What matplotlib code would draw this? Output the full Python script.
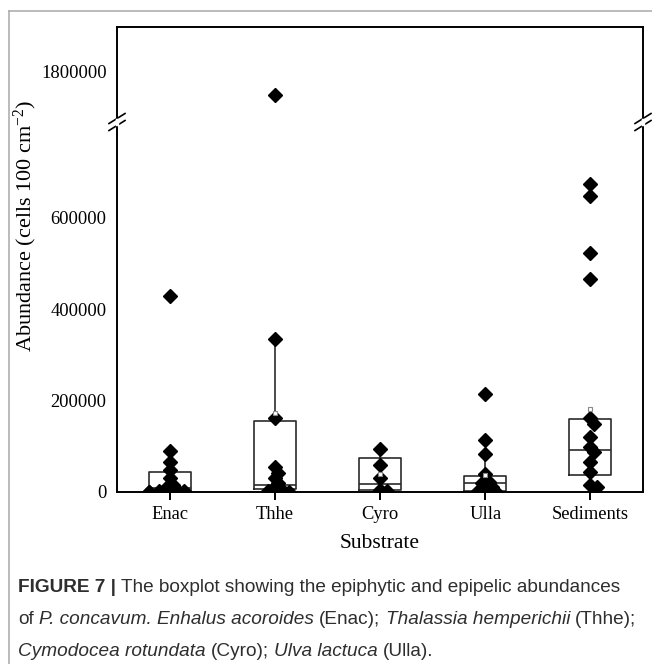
import matplotlib
matplotlib.use("Agg")
import numpy as np
import matplotlib.pyplot as plt
from matplotlib.lines import Line2D

substrates = ["Enac", "Thhe", "Cyro", "Ulla", "Sediments"]

# individual abundances (cells 100 cm-2)
enac = [428000, 90000, 66000, 48000, 30000, 15000, 8000, 5000, 3000, 2000, 1000, 500]
thhe = [1750000, 334000, 161700, 55000, 41000, 30000, 20000, 10000, 5000, 2000, 1000]
cyro = [94000, 59000, 30600, 5000, 2000]
ulla = [213500, 113700, 83000, 39000, 22500, 19000, 11600, 6000, 3000, 1000]
sediments = [672600, 647700, 523000, 465000, 161000, 148600, 119500, 99000,
             88000, 66000, 44400, 15300, 10300]
groups = [enac, thhe, cyro, ulla, sediments]

# box statistics
q1 = [2000, 6000, 4000, 3000, 37000]
med = [9000, 15000, 17500, 19000, 92000]
q3 = [44000, 156000, 73600, 35600, 159000]
whislo = [0, 0, 0, 0, 10300]
whishi = [90000, 334000, 94000, 83000, 161000]
means = [None, 172000, 39000, 37000, 181000]

W_PX, H_PX = 652, 664
fig = plt.figure(figsize=(W_PX / 100, H_PX / 100), dpi=100)

serif = "Liberation Serif"
left, right = 117, 643
y_top, y_break, y_zero = 27, 122, 492
px_per_val = 91.5 / 200000

ax_top = fig.add_axes([left / W_PX, 1 - y_break / H_PX, (right - left) / W_PX,
                       (y_break - y_top) / H_PX])
ax = fig.add_axes([left / W_PX, 1 - y_zero / H_PX, (right - left) / W_PX,
                   (y_zero - y_break) / H_PX])

lo_max = (y_zero - y_break) / px_per_val
ax.set_ylim(0, lo_max)
ax_top.set_ylim(1800000 - (y_break - 72) / px_per_val, 1800000 + (72 - y_top) / px_per_val)
for a in (ax, ax_top):
    a.set_xlim(0.5, 5.5)
    for s in a.spines.values():
        s.set_linewidth(1.4)
        s.set_color("black")
ax.spines["top"].set_visible(False)
ax_top.spines["bottom"].set_visible(False)

px_per_x = (right - left) / 5.0


def swarm_offsets(vals, size_px=8.0, step=3.5):
    vals = np.asarray(vals, dtype=float)
    offs = np.zeros(len(vals))
    placed = []
    for i in np.argsort(vals)[::-1]:
        y = vals[i] * px_per_val
        for k in [0, 1, -1, 2, -2, 3, -3, 4, -4, 5, -5, 6, -6]:
            x = k * step
            if all(abs(x - px) + abs(y - py) >= size_px for px, py in placed):
                break
        placed.append((x, y))
        offs[i] = x / px_per_x
    return offs


positions = np.arange(1, len(substrates) + 1)

stats = []
for i, name in enumerate(substrates):
    stats.append({"label": name, "q1": q1[i], "med": med[i], "q3": q3[i],
                  "whislo": whislo[i], "whishi": whishi[i]})
line_kw = {"color": "#2b2b2b", "linewidth": 1.2}
ax.bxp(stats, positions=positions, widths=0.4, showcaps=False, showfliers=False,
       boxprops=line_kw, whiskerprops=line_kw, medianprops=line_kw)

for i, vals in enumerate(groups):
    xs = positions[i] + swarm_offsets(vals)
    for a in (ax, ax_top):
        a.plot(xs, vals, linestyle="none", marker="D", markersize=7,
               color="black", zorder=4)
    if means[i] is not None:
        ax.plot(positions[i], means[i], linestyle="none", marker="s", markersize=3.5,
                markerfacecolor="white", markeredgecolor="#888888",
                markeredgewidth=0.8, zorder=5)

ax.set_xticks(positions)
ax.set_xticklabels(substrates, fontfamily=serif, fontsize=13.3)
ax.tick_params(axis="x", direction="out", length=6, width=1.4, pad=4)
ax.set_yticks([0, 200000, 400000, 600000])
ax.set_yticklabels(["0", "200000", "400000", "600000"], fontfamily=serif, fontsize=13.3)
ax.tick_params(axis="y", length=0, pad=7.5)
ax_top.set_xticks([])
ax_top.set_yticks([1800000])
ax_top.set_yticklabels(["1800000"], fontfamily=serif, fontsize=13.3)
ax_top.tick_params(axis="y", length=0, pad=7.5)

ax.set_xlabel("Substrate", fontfamily=serif, fontsize=15.5)
ax.xaxis.set_label_coords(0.5, (y_zero - 543) / (y_zero - y_break))
ax.xaxis.label.set_va("center")
fig.text(25 / W_PX, 1 - 226 / H_PX, r"Abundance (cells 100 cm$\mathregular{^{-2}}$)",
         fontfamily=serif, fontsize=16, rotation=90, ha="center", va="center")

# axis break marks on both spines
for xb in (left, right):
    x0, x1 = (xb - 8) / W_PX, (xb + 8) / W_PX
    for dy in (-3.5, 3.5):
        yb = 1 - (y_break + dy) / H_PX
        fig.add_artist(Line2D([x0, x1], [yb - 5 / H_PX, yb + 5 / H_PX],
                              color="black", linewidth=1.2))
    fig.add_artist(Line2D([xb / W_PX, xb / W_PX],
                          [1 - (y_break + 2) / H_PX, 1 - (y_break - 2) / H_PX],
                          color="white", linewidth=2.5))

# panel border
border = "#a8a8a8"
fig.add_artist(Line2D([8.5 / W_PX, 8.5 / W_PX], [0, 1 - 10.5 / H_PX], color=border, linewidth=1.1))
fig.add_artist(Line2D([8.5 / W_PX, 1], [1 - 10.5 / H_PX, 1 - 10.5 / H_PX], color=border, linewidth=1.1))

# caption with mixed styles
renderer = fig.canvas.get_renderer()
cap_font = "Liberation Sans"
cap_size = 13.7
cap_color = "#2e2e2e"


def text_width(s, **kw):
    t = fig.text(0, 0, s, fontfamily=cap_font, fontsize=cap_size, **kw)
    w = t.get_window_extent(renderer).width
    t.remove()
    return w


space_px = text_width("a a") - text_width("aa")


def draw_runs(x_px, y_px, runs):
    for s, style in runs:
        kw = {}
        if style == "i":
            kw["fontstyle"] = "italic"
        if style == "b":
            kw["fontweight"] = "bold"
        t = fig.text(x_px / W_PX, 1 - y_px / H_PX, s, fontfamily=cap_font,
                     fontsize=cap_size, color=cap_color, va="center", **kw)
        x_px = t.get_window_extent(renderer).x1 + space_px


draw_runs(18, 588, [("FIGURE 7 |", "b"),
                    ("The boxplot showing the epiphytic and epipelic abundances", "n")])
draw_runs(18, 620, [("of", "n"), ("P. concavum. Enhalus acoroides", "i"), ("(Enac);", "n"),
                    ("Thalassia hemperichii", "i"), ("(Thhe);", "n")])
draw_runs(18, 651, [("Cymodocea rotundata", "i"), ("(Cyro);", "n"),
                    ("Ulva lactuca", "i"), ("(Ulla).", "n")])

fig.savefig("out.png", dpi=100)
